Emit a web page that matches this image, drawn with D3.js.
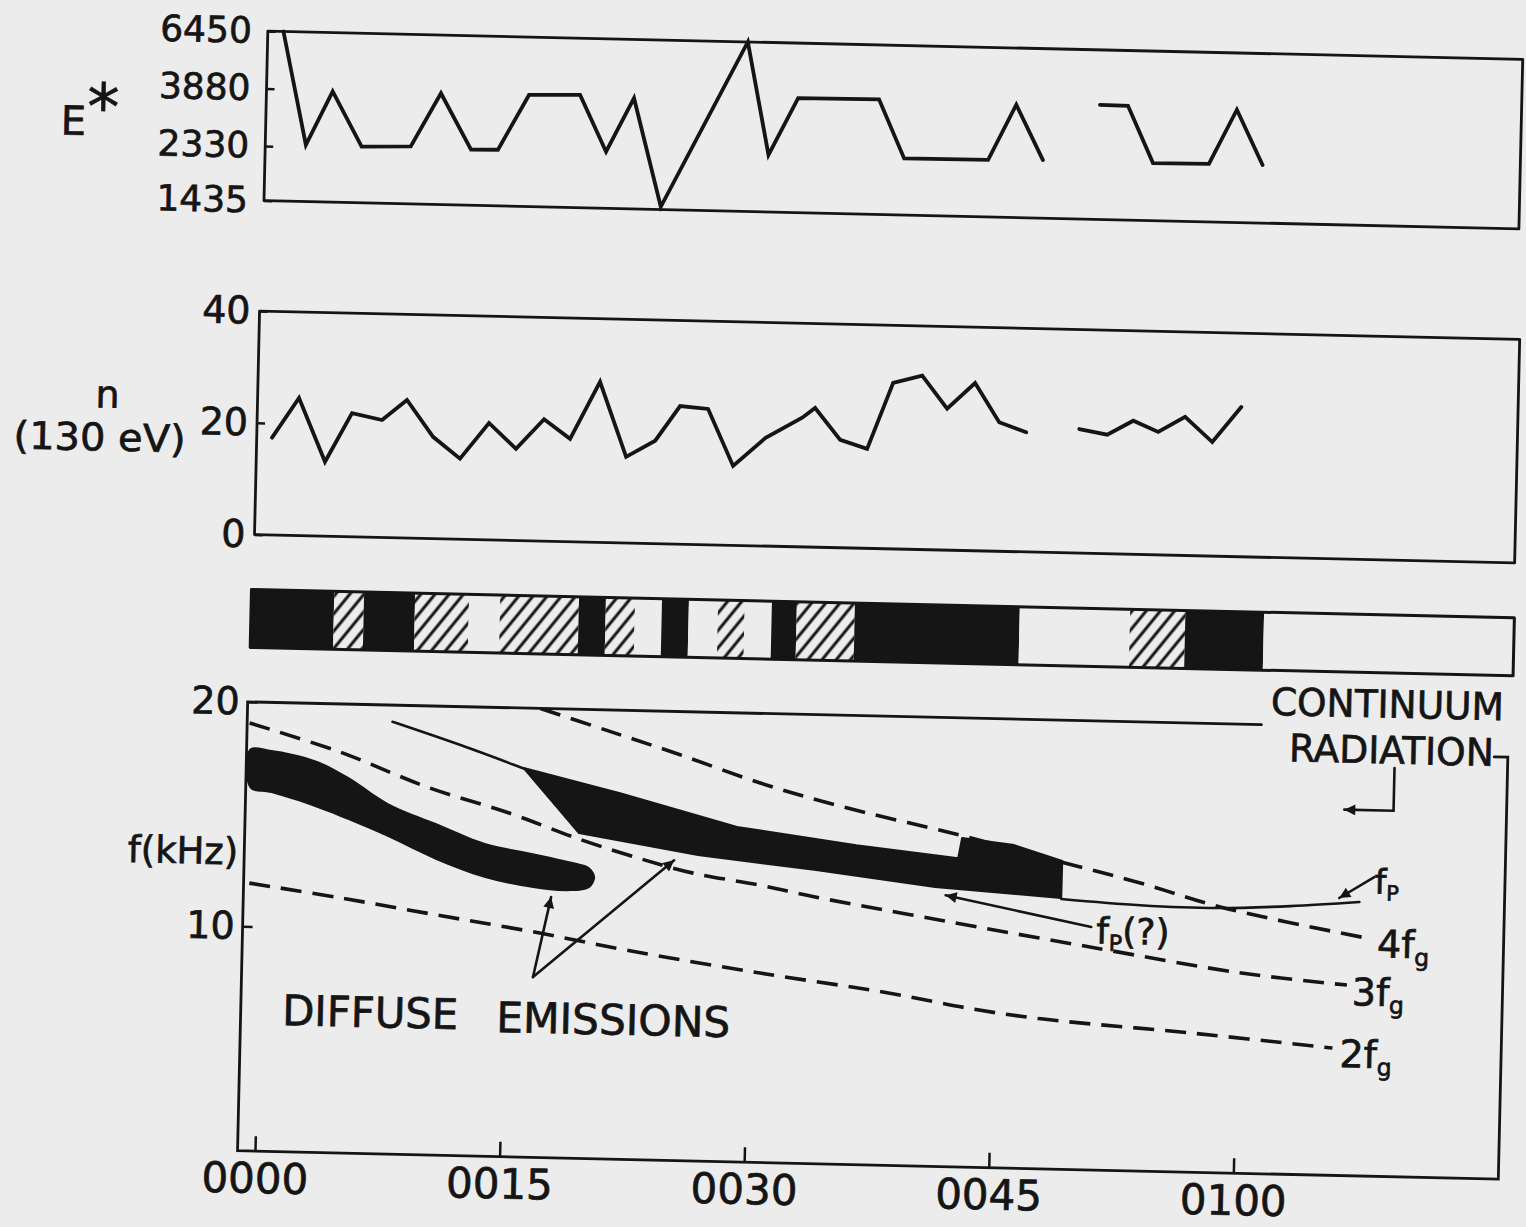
<!DOCTYPE html>
<html>
<head>
<meta charset="utf-8">
<script src="https://cdn.jsdelivr.net/npm/d3@7"></script>
<style>
  html, body { margin: 0; padding: 0; background: #ececec; }
  svg { display: block; }
  text { font-family: "DejaVu Sans", sans-serif; fill: #151515; stroke: #151515; stroke-width: 0.7px; }
</style>
</head>
<body>
<div id="chart"></div>
<script>
// time is in minutes after 0000 UT
const eTime  = [0.20, 1.73, 3.30, 5.15, 8.16, 9.94, 11.86, 13.51, 15.34, 18.47, 20.14, 21.78, 23.57, 28.68,
                30.10, 31.84, 36.80, 38.42, 43.57, 45.22, 46.93, 48.60, 50.35, 52.07, 53.68, 57.11, 58.75, 60.40];
const eValue = [6450, 2370, 3830, 2360, 2390, 3850, 2350, 2360, 3860, 3900, 2370, 3830, 1470, 6450,
                2380, 3960, 3980, 2370, 2380, 3900, 2400, null, 3960, 3950, 2390, 2400, 3900, 2400];
const eTicks = [6450, 3880, 2330, 1435];

const nTime  = [0.06, 1.66, 3.34, 4.93, 6.78, 8.28, 9.93, 11.61, 13.34, 15.03, 16.71, 18.33, 20.09, 21.79,
                23.55, 25.03, 26.75, 28.36, 30.29, 32.53, 33.31, 34.89, 36.55, 38.06, 39.83, 41.40, 43.08,
                44.61, 46.28, 47.90, 49.53, 51.25, 52.83, 54.37, 56.00, 57.70, 59.43];
const nValue = [17.4, 24.6, 13.3, 22.1, 21.0, 24.7, 18.2, 14.4, 20.9, 16.4, 21.8, 18.4, 28.7, 15.4,
                18.4, 24.7, 24.3, 14.2, 19.3, 23.1, 24.9, 19.3, 17.8, 29.7, 31.1, 25.3, 30.0,
                23.1, 21.4, null, 22.2, 21.3, 23.9, 22.0, 24.8, 20.4, 26.8];
const nTicks = [0, 20, 40];

// emission strip: edges in minutes and the kind of each cell
const stripEdges = [-0.99, 4.09, 5.92, 9.05, 12.36, 14.27, 19.10, 20.75, 22.54, 24.19, 25.84,
                    27.63, 29.27, 30.93, 32.46, 36.02, 46.13, 52.90, 56.29, 61.11, 76.46];
const stripKind = ['black', 'hatch', 'black', 'hatch', 'white', 'hatch', 'black', 'hatch', 'white', 'black',
                   'white', 'hatch', 'white', 'black', 'hatch', 'black', 'white', 'hatch', 'black', 'white'];

const timeTicks = [0, 15, 30, 45, 60];
const timeLabels = ['0000', '0015', '0030', '0045', '0100'];
const fTicks = [10, 20];

// spectrogram panel, [minutes, kHz]
const fg4 = [[16.89, 20.0], [20.94, 19.1], [25.42, 18.1], [30.46, 16.9], [35.39, 15.95], [42.83, 14.77],
             [49.02, 13.68], [53.95, 12.82], [58.89, 11.83], [67.85, 10.6]];
const fg3 = [[-0.92, 19.06], [4.66, 17.86], [10.04, 16.39], [15.11, 15.31], [19.62, 14.18], [23.51, 13.35],
             [26.47, 12.82], [30.59, 12.35], [33.98, 11.88], [41.71, 10.97], [50.98, 9.92], [60.21, 8.92], [66.7, 8.49]];
const fg2 = [[-0.72, 11.93], [5.0, 11.35], [10.8, 10.7], [16.7, 10.05], [22.7, 9.3], [30.7, 8.44], [38.7, 7.67],
             [43.8, 7.05], [48.0, 6.68], [57.2, 6.2], [65.9, 5.67]];
const fpLine = [[49.07, 12.04], [53.92, 11.84], [58.59, 11.79], [63.12, 11.95], [67.35, 12.2]];
const upperLine = [[7.84, 19.26], [12.04, 18.29], [15.94, 17.31]];
const band1 = [[-0.89, 17.9], [0.46, 17.88], [3.14, 17.47], [5.22, 16.75], [7.68, 15.63], [10.64, 14.79],
               [13.68, 13.95], [16.63, 13.55], [19.34, 13.15], [20.09, 12.98], [20.47, 12.55], [20.12, 12.05],
               [18.79, 11.89], [16.68, 12.0], [13.73, 12.39], [10.7, 13.15], [7.72, 14.12], [5.31, 14.83],
               [3.24, 15.38], [0.52, 15.96], [-0.82, 16.17]];
const band2 = [[15.94, 17.33], [21.88, 16.31], [29.1, 14.92], [36.43, 14.23], [42.7, 13.75], [42.91, 14.65],
               [46.11, 14.39], [49.08, 13.73], [49.07, 12.08], [41.33, 12.44], [34.01, 13.08], [26.75, 13.63],
               [19.42, 14.49]];

const W = 1526, H = 1227;
const ink = '#151515', paper = '#ececec';

const svg = d3.select('#chart').append('svg').attr('width', W).attr('height', H);
svg.append('rect').attr('width', W).attr('height', H).attr('fill', paper);

const defs = svg.append('defs');
const hatch = defs.append('pattern').attr('id', 'hatch')
  .attr('patternUnits', 'userSpaceOnUse').attr('width', 11).attr('height', 11)
  .attr('patternTransform', 'rotate(38)');
hatch.append('rect').attr('width', 11).attr('height', 11).attr('fill', paper);
hatch.append('line').attr('x1', 2).attr('y1', -1).attr('x2', 2).attr('y2', 12)
  .attr('stroke', ink).attr('stroke-width', 3);

defs.append('marker').attr('id', 'head')
  .attr('viewBox', '0 0 10 10').attr('refX', 10).attr('refY', 5)
  .attr('markerWidth', 17).attr('markerHeight', 11).attr('markerUnits', 'userSpaceOnUse')
  .attr('orient', 'auto')
  .append('path').attr('d', 'M0,0L10,5L0,10Z').attr('fill', ink);

// the scanned figure sits slightly tilted on the page
const g = svg.append('g').attr('transform', 'rotate(1.29,255,600)');

const x = d3.scaleLinear().domain([0, 60]).range([267.4, 1246]);

const styleAxis = (sel, size) => {
  sel.attr('font-family', null).attr('font-size', size);
  sel.select('.domain').remove();
  sel.selectAll('line').attr('stroke', ink).attr('stroke-width', 2.5);
  sel.selectAll('text').attr('fill', ink);
};

const stroke = (sel, w) => sel.attr('fill', 'none').attr('stroke', ink).attr('stroke-width', w)
  .attr('stroke-linejoin', 'round').attr('stroke-linecap', 'round');

// ---- E* panel
const yE = d3.scaleLog().domain([1435, 6450]).range([200.5, 31]);
g.append('rect').attr('x', x(-0.76)).attr('y', yE(6450))
  .attr('width', x(76.2) - x(-0.76)).attr('height', yE(1435) - yE(6450))
  .call(stroke, 2.8);
g.append('g').attr('transform', `translate(${x(-0.76)},0)`)
  .call(d3.axisLeft(yE).tickValues(eTicks).tickFormat(d3.format('d')).tickSize(-8).tickPadding(16))
  .call(styleAxis, 36);
g.append('path').datum(d3.zip(eTime, eValue))
  .attr('d', d3.line().defined((d) => d[1] != null).x((d) => x(d[0])).y((d) => yE(d[1])))
  .call(stroke, 3.8).attr('stroke-linejoin', 'miter');
g.append('text').attr('x', 50).attr('y', 139).attr('font-size', 40).text('E')
  .append('tspan').attr('font-size', 64).attr('dx', 1).attr('dy', -6).text('*');

// ---- n panel
const yN = d3.scaleLinear().domain([0, 40]).range([534.6, 311]);
g.append('rect').attr('x', x(-0.88)).attr('y', yN(40))
  .attr('width', x(76.4) - x(-0.88)).attr('height', yN(0) - yN(40))
  .call(stroke, 2.8);
g.append('g').attr('transform', `translate(${x(-0.88)},0)`)
  .call(d3.axisLeft(yN).tickValues(nTicks).tickSize(-8).tickPadding(9))
  .call(styleAxis, 38);
g.append('path').datum(d3.zip(nTime, nValue))
  .attr('d', d3.line().defined((d) => d[1] != null).x((d) => x(d[0])).y((d) => yN(d[1])))
  .call(stroke, 3.8).attr('stroke-linejoin', 'miter');
g.append('text').attr('x', 103).attr('y', 411).attr('text-anchor', 'middle').attr('font-size', 38).text('n');
g.append('text').attr('x', 10).attr('y', 454).attr('font-size', 38)
  .attr('textLength', 172).attr('lengthAdjust', 'spacingAndGlyphs').text('(130 eV)');

// ---- emission strip
const sTop = 589.5, sBot = 647.5;
g.append('g').selectAll('rect').data(stripKind).join('rect')
  .attr('x', (d, i) => x(stripEdges[i]))
  .attr('width', (d, i) => x(stripEdges[i + 1]) - x(stripEdges[i]))
  .attr('y', sTop).attr('height', sBot - sTop)
  .attr('fill', (d) => d === 'black' ? ink : d === 'hatch' ? 'url(#hatch)' : paper);
g.append('rect').attr('x', x(stripEdges[0])).attr('y', sTop)
  .attr('width', x(stripEdges[stripEdges.length - 1]) - x(stripEdges[0])).attr('height', sBot - sTop)
  .call(stroke, 3);

// ---- frequency panel
const yF = d3.scaleLinear().domain([0, 20]).range([1151, 702]);
const fl = x(-1.07), fr = x(76.25);

defs.append('clipPath').attr('id', 'fclip').append('rect')
  .attr('x', fl).attr('y', yF(20)).attr('width', fr - fl).attr('height', yF(0) - yF(20));

const curve = d3.line().x((d) => x(d[0])).y((d) => yF(d[1])).curve(d3.curveCatmullRom);
const inside = g.append('g').attr('clip-path', 'url(#fclip)');

inside.append('path').datum(band1)
  .attr('d', d3.line().x((d) => x(d[0])).y((d) => yF(d[1])).curve(d3.curveCatmullRomClosed))
  .attr('fill', ink);
inside.append('path').datum(band2)
  .attr('d', d3.line().x((d) => x(d[0])).y((d) => yF(d[1])).curve(d3.curveLinearClosed))
  .attr('fill', ink).attr('stroke', ink).attr('stroke-width', 2).attr('stroke-linejoin', 'round');

[fg4, fg3, fg2].forEach((d) => {
  inside.append('path').datum(d).attr('d', curve).call(stroke, 3.6)
    .attr('stroke-linecap', 'butt').attr('stroke-dasharray', '21,11');
});
inside.append('path').datum(fpLine).attr('d', curve).call(stroke, 2.6);
inside.append('path').datum(upperLine).attr('d', curve).call(stroke, 2.6);

// frame: open at the top right where the continuum label sits
g.append('path')
  .attr('d', `M${x(61.1)},${yF(20)}H${fl}V${yF(0)}H${fr}V${yF(18.8)}H${x(75.42)}`)
  .call(stroke, 2.8).attr('stroke-linejoin', 'miter');

g.append('g').attr('transform', `translate(0,${yF(0)})`)
  .call(d3.axisBottom(x).tickValues(timeTicks).tickFormat((d, i) => timeLabels[i]).tickSize(-15).tickPadding(12))
  .call(styleAxis, 42);
g.append('g').attr('transform', `translate(${fl},0)`)
  .call(d3.axisLeft(yF).tickValues(fTicks).tickSize(-10).tickPadding(8))
  .call(styleAxis, 38);
g.append('text').attr('x', fl - 6).attr('y', yF(12.75)).attr('text-anchor', 'end')
  .attr('font-size', 37).text('f(kHz)');

// labels with subscripts
const subLabel = (t, f, main, sub, tail, size) => {
  const el = g.append('text').attr('x', x(t)).attr('y', yF(f)).attr('font-size', size).text(main);
  el.append('tspan').attr('font-size', size * 0.62).attr('dy', size * 0.2).text(sub);
  if (tail) el.append('tspan').attr('dy', -size * 0.2).text(tail);
};
subLabel(68.49, 9.76, '4f', 'g', null, 38);
subLabel(67.01, 7.6, '3f', 'g', null, 38);
subLabel(66.34, 4.83, '2f', 'g', null, 38);
subLabel(68.25, 12.6, 'f', 'P', null, 34);
subLabel(51.26, 10.1, 'f', 'P', '(?)', 36);

g.append('text').attr('x', x(1.48)).attr('y', yF(5.64)).attr('font-size', 42)
  .attr('textLength', 176).attr('lengthAdjust', 'spacingAndGlyphs').text('DIFFUSE');
g.append('text').attr('x', x(14.61)).attr('y', yF(5.55)).attr('font-size', 42)
  .attr('textLength', 234).attr('lengthAdjust', 'spacingAndGlyphs').text('EMISSIONS');
g.append('text').attr('x', 1273).attr('y', 692).attr('font-size', 38)
  .attr('textLength', 233).attr('lengthAdjust', 'spacingAndGlyphs').text('CONTINUUM');
g.append('text').attr('x', 1292).attr('y', 738).attr('font-size', 38)
  .attr('textLength', 205).attr('lengthAdjust', 'spacingAndGlyphs').text('RADIATION');

// arrows
const arrow = (pts) => g.append('path').datum(pts)
  .attr('d', d3.line().x((d) => x(d[0])).y((d) => yF(d[1])))
  .call(stroke, 2.6).attr('stroke-linejoin', 'miter').attr('marker-end', 'url(#head)');
arrow([[16.8, 8.03], [17.8, 11.61]]);
arrow([[16.8, 8.03], [25.29, 13.37]]);
arrow([[50.95, 10.82], [41.98, 12.09]]);
arrow([[68.23, 13.33], [66.11, 12.36]]);
arrow([[69.32, 18.2], [69.32, 16.3], [66.3, 16.3]]);
</script>
</body>
</html>
